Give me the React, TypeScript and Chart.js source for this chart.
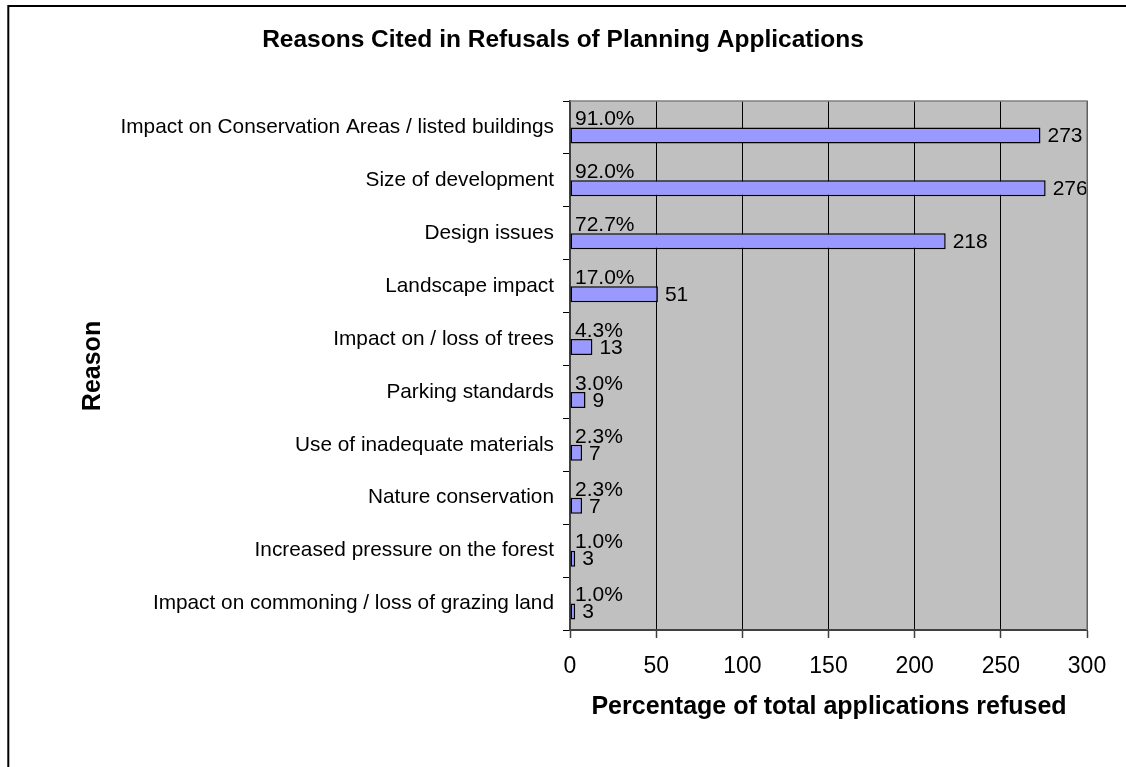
import React, { useEffect, useRef } from "react";
import { Chart, registerables } from "chart.js";

Chart.register(...registerables);

const categories: string[] = [
  "Impact on Conservation Areas / listed buildings",
  "Size of development",
  "Design issues",
  "Landscape impact",
  "Impact on / loss of trees",
  "Parking standards",
  "Use of inadequate materials",
  "Nature conservation",
  "Increased pressure on the forest",
  "Impact on commoning / loss of grazing land",
];
const percentages: number[] = [91.0, 92.0, 72.7, 17.0, 4.3, 3.0, 2.3, 2.3, 1.0, 1.0];
const counts: number[] = [273, 276, 218, 51, 13, 9, 7, 7, 3, 3];
const xTicks: number[] = [0, 50, 100, 150, 200, 250, 300];

const titleText = "Reasons Cited in Refusals of Planning Applications";
const xTitle = "Percentage of total applications refused";
const yTitle = "Reason";
const FONT = '"Liberation Sans", Arial, sans-serif';

const decor = {
  id: "decor",
  beforeDraw(chart: any) {
    const { ctx, chartArea, width, height } = chart;
    ctx.save();
    ctx.fillStyle = "#ffffff";
    ctx.fillRect(0, 0, width, height);
    ctx.strokeStyle = "#000000";
    ctx.lineWidth = 2;
    ctx.beginPath();
    ctx.moveTo(8.3, height);
    ctx.lineTo(8.3, 6);
    ctx.lineTo(width, 6);
    ctx.stroke();
    ctx.fillStyle = "#c0c0c0";
    ctx.fillRect(chartArea.left, chartArea.top, chartArea.right - chartArea.left, chartArea.bottom - chartArea.top);
    ctx.restore();
  },
  afterDatasetsDraw(chart: any) {
    const { ctx, chartArea } = chart;
    const xs = chart.scales.x;
    const m0 = chart.getDatasetMeta(0).data;
    const m1 = chart.getDatasetMeta(1).data;
    ctx.save();
    ctx.fillStyle = "#000000";
    ctx.font = `21px ${FONT}`;
    ctx.textBaseline = "middle";
    ctx.textAlign = "left";
    const x0 = xs.getPixelForValue(0);
    for (let i = 0; i < categories.length; i++) {
      ctx.fillText(percentages[i].toFixed(1) + "%", x0 + 5, m0[i].y);
      ctx.fillText(String(counts[i]), m1[i].x + 7, m1[i].y + 1);
    }
    ctx.strokeStyle = "#808080";
    ctx.lineWidth = 1.5;
    ctx.beginPath();
    ctx.moveTo(chartArea.left, chartArea.top);
    ctx.lineTo(chartArea.right, chartArea.top);
    ctx.lineTo(chartArea.right, chartArea.bottom);
    ctx.stroke();
    ctx.restore();
  },
  afterDraw(chart: any) {
    const { ctx } = chart;
    ctx.save();
    ctx.fillStyle = "#000000";
    ctx.textAlign = "center";
    ctx.textBaseline = "alphabetic";
    ctx.font = `bold 24.5px ${FONT}`;
    ctx.fillText(titleText, 563, 47);
    ctx.font = `bold 25px ${FONT}`;
    ctx.fillText(xTitle, 829, 714);
    ctx.translate(100, 366);
    ctx.rotate(-Math.PI / 2);
    ctx.fillText(yTitle, 0, 0);
    ctx.restore();
  },
};

export default function App() {
  const ref = useRef<HTMLCanvasElement | null>(null);
  useEffect(() => {
    if (!ref.current) return;
    const chart = new Chart(ref.current, {
      type: "bar",
      data: {
        labels: categories,
        datasets: [
          {
            label: "Percentage",
            data: percentages,
            backgroundColor: "rgba(0,0,0,0)",
            borderWidth: 0,
          },
          {
            label: "Count",
            data: counts,
            backgroundColor: "#9999ff",
            borderColor: "#000000",
            borderWidth: 1.5,
            borderSkipped: false,
          },
        ],
      },
      options: {
        indexAxis: "y",
        animation: false,
        responsive: true,
        maintainAspectRatio: false,
        events: [],
        layout: { padding: { top: 101, right: 39, left: 0, bottom: 0 } },
        datasets: { bar: { categoryPercentage: 0.605, barPercentage: 1 } },
        plugins: { legend: { display: false }, title: { display: false }, tooltip: { enabled: false } },
        scales: {
          x: {
            type: "linear",
            min: 0,
            max: 300,
            afterBuildTicks(scale: any) {
              scale.ticks = xTicks.map((v) => ({ value: v }));
            },
            afterFit(scale: any) {
              scale.height = 137;
            },
            ticks: { color: "#000000", font: { family: FONT, size: 23 }, padding: 15 },
            grid: { color: "#000000", lineWidth: 1, tickLength: 8, tickColor: "#404040", tickWidth: 1.5 },
            border: { display: true, color: "#404040", width: 2 },
          },
          y: {
            type: "category",
            afterFit(scale: any) {
              scale.width = 570;
            },
            ticks: { color: "#000000", font: { family: FONT, size: 20.8 }, padding: 9, autoSkip: false },
            grid: { offset: true, drawOnChartArea: false, tickLength: 7, color: "#000000", tickWidth: 1 },
            border: { display: true, color: "#404040", width: 2 },
          },
        },
      },
      plugins: [decor],
    });
    return () => chart.destroy();
  }, []);
  return (
    <div style={{ position: "fixed", left: 0, top: 0, width: 1126, height: 767, background: "#fff" }}>
      <canvas ref={ref} />
    </div>
  );
}
